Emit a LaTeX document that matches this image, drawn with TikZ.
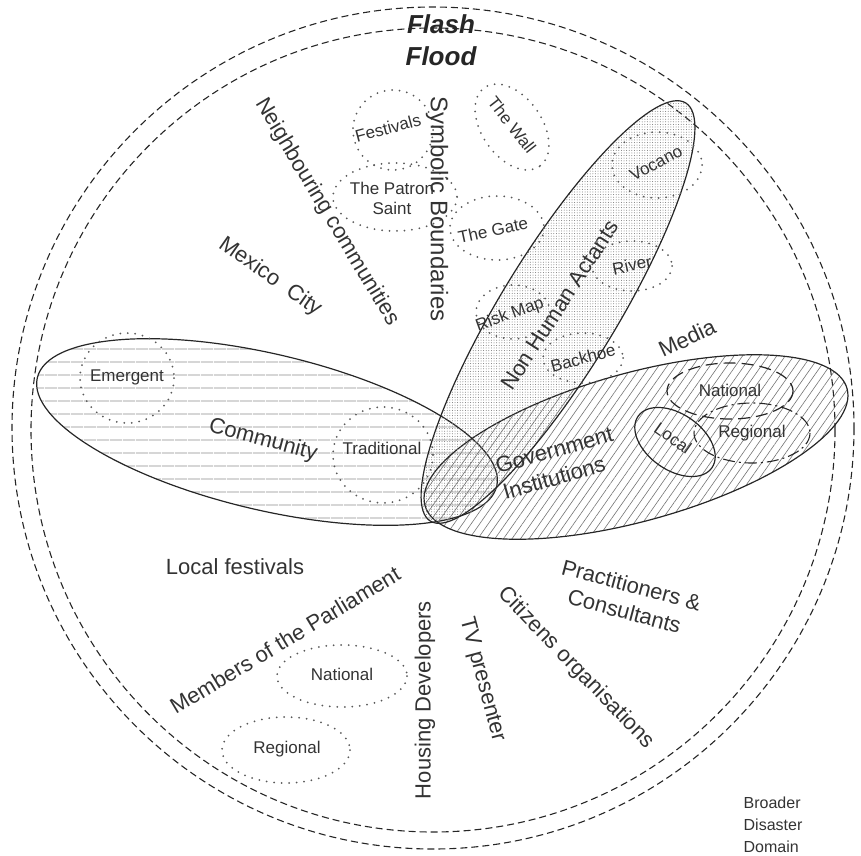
\documentclass[tikz,border=0pt]{standalone}
\usepackage{fontspec}
\setmainfont{Liberation Sans}
\usetikzlibrary{patterns.meta}

\tikzset{
  lbl/.style={font=\fontsize{22}{27}\selectfont, text=black!80},
  sml/.style={font=\fontsize{17}{20}\selectfont, text=black!80},
  ring/.style={draw=black!85, line width=1.1pt, dash pattern=on 7pt off 4pt},
  dotring/.style={draw=black!65, line width=2pt, dash pattern=on 0pt off 7.5pt, line cap=round},
  actor/.style={draw=black!85, line width=1.2pt}
}

\begin{document}
\begin{tikzpicture}[x=1pt, y=-1pt]
  \useasboundingbox (0,0) rectangle (861,855);
  % domain boundaries
  \draw[ring] (433,428) circle [radius=421];
  \draw[ring] (433,430) circle [radius=402];

  % main actor ellipses
  \draw[actor, pattern={Lines[angle=0, distance=13pt, line width=0.9pt]}, pattern color=black!45]
    [rotate around={-13.3:(267,432)}] (267,432) ellipse [x radius=236, y radius=78];
  \draw[actor, pattern={Lines[angle=55, distance=7pt, line width=0.6pt]}, pattern color=black!55]
    [rotate around={15.5:(636,447)}] (636,447) ellipse [x radius=219, y radius=74];
  \draw[actor, pattern={Dots[distance=2.6pt, radius=0.5pt]}, pattern color=black!55]
    [rotate around={58.6:(558,312)}] (558,312) ellipse [x radius=245, y radius=58];

  % sub-groups
  \draw[dotring] (127,378) ellipse [x radius=47, y radius=45];
  \draw[dotring] (383,455) ellipse [x radius=50, y radius=48];
  \draw[dotring] (393,130) ellipse [x radius=40, y radius=40];
  \draw[dotring] (395,197) ellipse [x radius=62, y radius=34];
  \draw[dotring, rotate around={-55:(512,127)}] (512,127) ellipse [x radius=48, y radius=30];
  \draw[dotring] (497,228) ellipse [x radius=47, y radius=32];
  \draw[dotring] (657,165) ellipse [x radius=45, y radius=33];
  \draw[dotring] (632,266) ellipse [x radius=40, y radius=25];
  \draw[dotring] (513,312) ellipse [x radius=37, y radius=27];
  \draw[dotring] (583,358) ellipse [x radius=40, y radius=25];
  \draw[dotring] (342,676) ellipse [x radius=65, y radius=31];
  \draw[dotring] (286,750) ellipse [x radius=64, y radius=33];

  \draw[draw=black!85, line width=1.2pt, dash pattern=on 12pt off 6pt] (730,391) ellipse [x radius=63, y radius=28];
  \draw[draw=black!85, line width=1.1pt, dash pattern=on 12pt off 4pt on 2pt off 4pt] (752,433) ellipse [x radius=58, y radius=30];
  \draw[actor, rotate around={-35:(675,442)}] (675,442) ellipse [x radius=45, y radius=28];

  % labels
  \node[font=\fontsize{26}{32}\selectfont\bfseries\itshape, text=black!85, align=center] (flood) at (441,40) {Flash\\Flood};
  \node[lbl, rotate=-59] (neigh) at (327,212) {Neighbouring communities};
  \node[lbl, rotate=-90, font=\fontsize{24}{28}\selectfont] (symb) at (437,209) {Symbolic Boundaries};
  \node[lbl, rotate=-35] (mexico) at (270,277) {Mexico\ \ City};
  \node[lbl, rotate=57] (nonhuman) at (560,305) {Non Human Actants};
  \node[lbl, rotate=25] (media) at (687,338) {Media};
  \node[lbl, rotate=-15] (community) at (263,440) {Community};
  \node[lbl, rotate=16, align=left] (govt) at (558,463) {Government\\Institutions};
  \node[lbl] (festlocal) at (235,567) {Local festivals};
  \node[lbl, rotate=31] (mop) at (285,640) {Members of the Parliament};
  \node[lbl, rotate=90] (housing) at (425,700) {Housing Developers};
  \node[lbl, rotate=-75] (tv) at (482,680) {TV presenter};
  \node[lbl, rotate=-46] (citizens) at (576,668) {Citizens organisations};
  \node[lbl, rotate=-15, align=center] (pract) at (628,598) {Practitioners \&\\Consultants};

  \node[sml, rotate=15] (festivals) at (388,128) {Festivals};
  \node[sml, align=center] (patron) at (392,198) {The Patron\\Saint};
  \node[sml, rotate=-52] (wall) at (512,125) {The Wall};
  \node[sml, rotate=12] (gate) at (493,230) {The Gate};
  \node[sml, rotate=28] (vocano) at (656,163) {Vocano};
  \node[sml, rotate=12] (river) at (632,265) {River};
  \node[sml, rotate=20] (riskmap) at (510,315) {Risk Map};
  \node[sml, rotate=15] (backhoe) at (583,358) {Backhoe};
  \node[sml] (emergent) at (127,377) {Emergent};
  \node[sml] (traditional) at (382,448) {Traditional};
  \node[sml] (gnational) at (730,390) {National};
  \node[sml] (gregional) at (752,433) {Regional};
  \node[sml, rotate=-35] (glocal) at (673,438) {Local};
  \node[sml] (mnational) at (342,674) {National};
  \node[sml] (mregional) at (287,749) {Regional};
  \node[sml, align=left, font=\fontsize{16}{22}\selectfont] (broader) at (773,825) {Broader\\Disaster\\Domain};
\end{tikzpicture}
\end{document}
